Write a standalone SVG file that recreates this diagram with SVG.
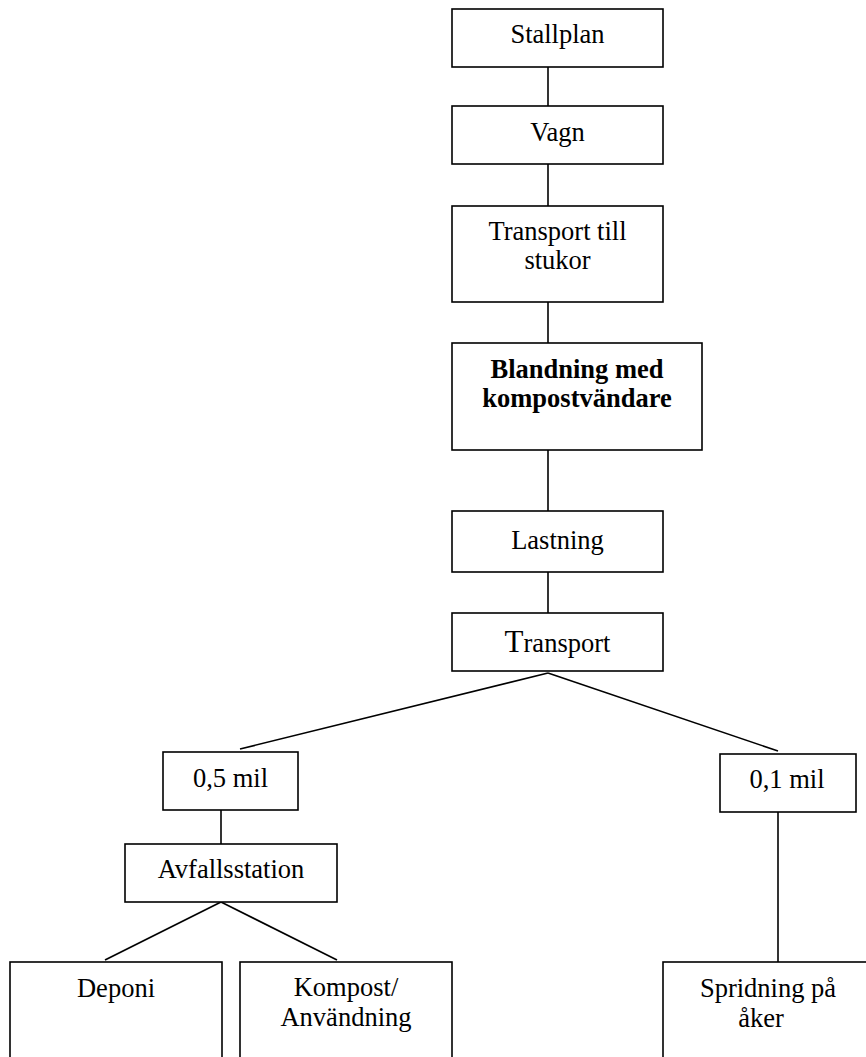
<svg xmlns="http://www.w3.org/2000/svg" width="866" height="1057" viewBox="0 0 866 1057">
<style>
rect{fill:#fff;stroke:#000;stroke-width:1.6}
line{stroke:#000;stroke-width:1.6}
text{font-family:"Liberation Serif","Times New Roman",serif;font-size:26.5px;fill:#000;text-anchor:middle}
.b{font-weight:bold}
</style>
<rect x="0" y="0" width="866" height="1057" style="stroke:none"/>
<g id="connectors">
<line x1="548" y1="67" x2="548" y2="106"/>
<line x1="548" y1="164" x2="548" y2="206"/>
<line x1="548" y1="302" x2="548" y2="343"/>
<line x1="548" y1="450" x2="548" y2="511"/>
<line x1="548" y1="572" x2="548" y2="613"/>
<line x1="548" y1="673" x2="240" y2="749"/>
<line x1="548" y1="673" x2="778" y2="751"/>
<line x1="221" y1="810" x2="221" y2="844"/>
<line x1="221" y1="902" x2="105" y2="960"/>
<line x1="221" y1="902" x2="337" y2="960"/>
<line x1="778" y1="812" x2="778" y2="962"/>
</g>
<g id="stallplan"><rect x="452" y="9" width="211" height="58"/><text x="557.5" y="43">Stallplan</text></g>
<g id="vagn"><rect x="452" y="106" width="211" height="58"/><text x="557.5" y="141">Vagn</text></g>
<g id="transport-stukor"><rect x="452" y="206" width="211" height="96"/><text x="557.5" y="240">Transport till</text><text x="557.5" y="269">stukor</text></g>
<g id="blandning"><rect x="452" y="343" width="250" height="107"/><text class="b" x="577" y="378">Blandning med</text><text class="b" x="577" y="407">kompostvändare</text></g>
<g id="lastning"><rect x="452" y="511" width="211" height="61"/><text x="557.5" y="549">Lastning</text></g>
<g id="transport"><rect x="452" y="613" width="211" height="58"/><text x="557.5" y="652"><tspan font-size="31">T</tspan>ransport</text></g>
<g id="mil05"><rect x="163" y="752" width="135" height="58"/><text x="230.5" y="787">0,5 mil</text></g>
<g id="avfallsstation"><rect x="125" y="844" width="212" height="58"/><text x="231" y="878">Avfallsstation</text></g>
<g id="mil01"><rect x="720" y="754" width="136" height="58"/><text x="787" y="788">0,1 mil</text></g>
<g id="deponi"><rect x="10" y="962" width="212" height="120"/><text x="116" y="997">Deponi</text></g>
<g id="kompost"><rect x="240" y="962" width="212" height="120"/><text x="346" y="996">Kompost/</text><text x="346" y="1026">Användning</text></g>
<g id="spridning"><rect x="663" y="962" width="230" height="120"/><text x="768" y="997">Spridning på</text><text x="761" y="1027">åker</text></g>
</svg>
